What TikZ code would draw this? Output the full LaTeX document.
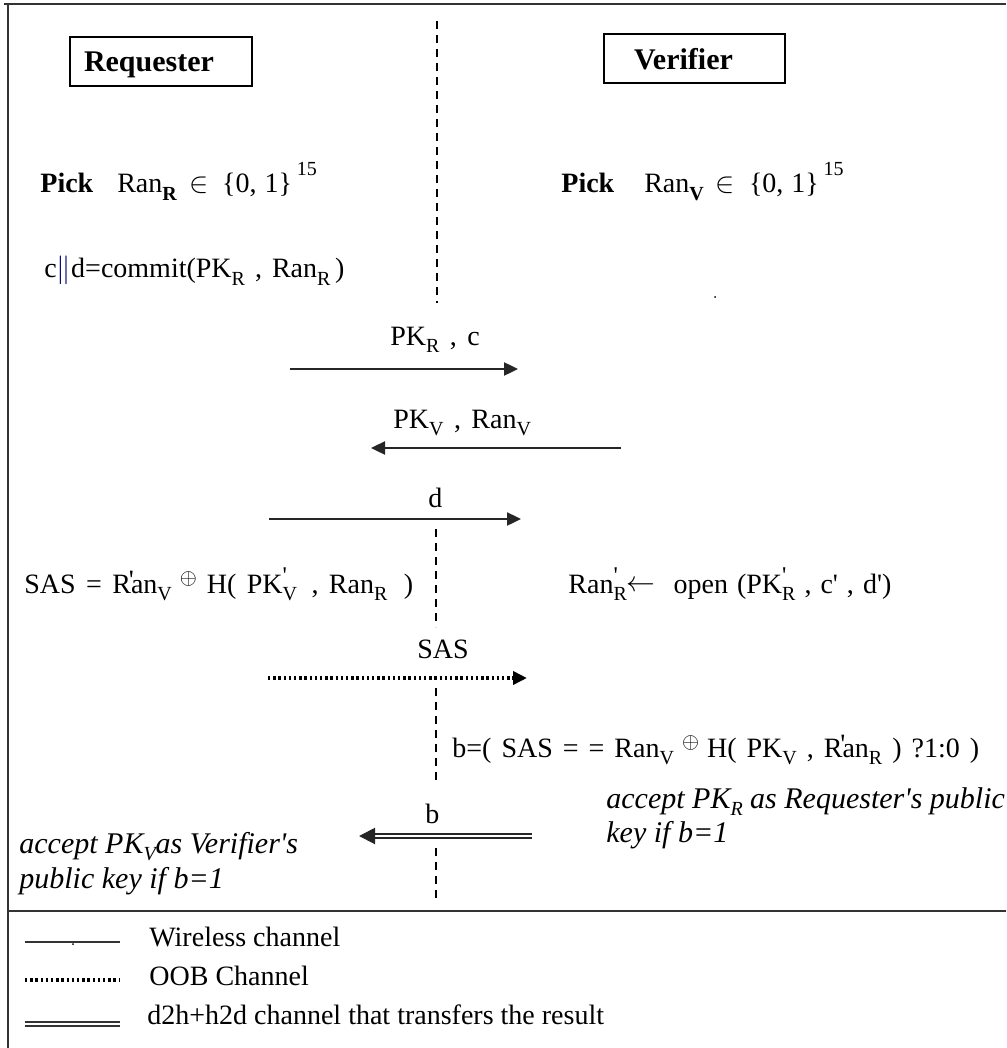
\documentclass[tikz,border=0pt]{standalone}
\usepackage{fontspec}
\setmainfont{Liberation Serif}
\usetikzlibrary{arrows.meta}

% small lowered index, and index carrying a prime above it
\newcommand\sbx[1]{\raisebox{-3.5pt}{\fontsize{10}{10}\selectfont #1}}
\newcommand\pq{\textquotesingle}
\newcommand\psb[1]{\rlap{\raisebox{5pt}{\fontsize{12}{12}\selectfont\pq}}\sbx{#1}}
\newcommand\rpr{R\llap{\raisebox{2pt}{\pq}\kern-1.5pt}}
\newcommand\oplusup{\raisebox{4.5pt}{\fontsize{11}{11}\selectfont$\oplus$}}
\newcommand\sxv[1]{\raisebox{9pt}{\fontsize{10}{10}\selectfont #1}}

\begin{document}
\begin{tikzpicture}[x=0.5pt,y=-0.5pt,
  every node/.style={inner sep=0pt,font=\fontsize{14}{17}\selectfont},
  frame/.style={line width=1.1pt,draw=black!80},
  actor/.style={draw,line width=1pt,anchor=west,align=left,minimum height=24.5pt,
    text depth=0pt,font=\bfseries\fontsize{15}{18}\selectfont},
  lbl/.style={anchor=base west},
  fml/.style={anchor=base west,execute at begin node={\spaceskip=#1\relax}},
  fml/.default=5.2pt,
  ilbl/.style={anchor=base west,align=left,font=\itshape\fontsize{15}{17}\selectfont},
  lifeline/.style={line width=0.7pt,dash pattern=on 4pt off 3pt},
  tip/.style={-{Triangle[length=7pt,width=6.5pt]}},
  wire/.style={tip,line width=1.2pt,draw=black!85},
  oob/.style={tip,line width=1.8pt,dash pattern=on 1.2pt off 1.4pt},
  res/.style={-{Triangle[length=8pt,width=8pt]},double,double distance=1.4pt,line width=1pt,draw=black!85},
  legwire/.style={line width=1pt,draw=black!80},
  legoob/.style={line width=1.8pt,dash pattern=on 1.2pt off 1.4pt},
  legres/.style={double,double distance=1.4pt,line width=1pt,draw=black!80}
]
\useasboundingbox (0,0) rectangle (1006,1048);

% outer frame and legend separator
\draw[frame] (4,4) -- (1006,4);
\draw[frame] (8,4) -- (8,1048);
\draw[frame] (8,911) -- (1006,911);

% parties
\node[actor,text width=77pt,inner xsep=7pt] (req) at (69,61.5) {Requester};
\node[actor,text width=60.5pt,inner xsep=15pt] (ver) at (603,59) {Verifier};

% lifeline between the two parties, broken where messages cross it
\coordinate (l1) at (437,21);  \coordinate (l2) at (437,303);
\coordinate (l3) at (436,529); \coordinate (l4) at (436,627);
\coordinate (l5) at (436,688); \coordinate (l6) at (436,785);
\coordinate (l7) at (436,848); \coordinate (l8) at (436,900);
\draw[lifeline] (l1) -- (l2);
\draw[lifeline] (l3) -- (l4);
\draw[lifeline] (l5) -- (l6);
\draw[lifeline] (l7) -- (l8);

% local computations
\node[lbl] (pickR) at (40,193) {\textbf{Pick}\hspace{12pt}Ran\sbx{\textbf{R}}\hspace{6pt}$\in$\hspace{7pt}\{0,\hspace{4pt}1\}\,\sxv{15}};
\node[lbl] (pickV) at (561,193) {\textbf{Pick}\hspace{15pt}Ran\sbx{\textbf{V}}\hspace{6pt}$\in$\hspace{7pt}\{0,\hspace{4pt}1\}\,\sxv{15}};
\node[fml=5pt] (commit) at (44,278) {c{\color{blue!45!black}$\|$}d=commit(PK\sbx{R} , Ran\sbx{R}\,)};
\fill (715,297) circle (1);

% messages
\coordinate (m1a) at (290,369); \coordinate (m1b) at (518,369);
\coordinate (m2a) at (621,448); \coordinate (m2b) at (371,448);
\coordinate (m3a) at (269,519); \coordinate (m3b) at (521,519);
\coordinate (m4a) at (268,678); \coordinate (m4b) at (527,678);
\coordinate (m5a) at (532,836); \coordinate (m5b) at (359,836);

\node[fml] (t1) at (390,345) {PK\sbx{R} , c};
\draw[wire] (m1a) -- (m1b);
\node[fml] (t2) at (393,428) {PK\sbx{V} , Ran\sbx{V}};
\draw[wire] (m2a) -- (m2b);
\node[lbl] (t3) at (428,507) {d};
\draw[wire] (m3a) -- (m3b);

\node[fml] (sasR) at (24,593) {SAS = \rpr an\sbx{V}\hspace{4pt}\oplusup\hspace{5pt}H( PK\psb{V}\hspace{2pt} , Ran\sbx{R}\hspace{3pt} )};
\node[fml=4.5pt] (openV) at (568,593) {Ran\psb{R}\raisebox{1pt}{$\leftarrow$}\ \ open (PK\psb{R} , c\pq\ , d\pq)};

\node[lbl] (t4) at (417,658) {SAS};
\draw[oob] (m4a) -- (m4b);

\node[fml=5pt] (chk) at (452,757) {b=( SAS = = Ran\sbx{V}\hspace{4pt}\oplusup\hspace{4pt}H( PK\sbx{V} , \rpr an\sbx{R} ) ?1:0 )};

\node[ilbl] (accR) at (606,842) {accept PK\sbx{R} as Requester\pq s public\\key if b=1};
\node[lbl] (t5) at (425,823) {b};
\draw[res] (m5a) -- (m5b);
\node[ilbl] (accV) at (19,888) {accept PK\sbx{V}as Verifier\pq s\\[0.5pt]public key if b=1};

% legend
\coordinate (k1a) at (25,942);  \coordinate (k1b) at (120,942);
\coordinate (k2a) at (25,980);  \coordinate (k2b) at (120,980);
\coordinate (k3a) at (25,1024); \coordinate (k3b) at (120,1024);
\draw[legwire] (k1a) -- (k1b);
\fill (73,944) circle (1);
\draw[legoob] (k2a) -- (k2b);
\draw[legres] (k3a) -- (k3b);
\node[lbl] (k1) at (149,946) {Wireless channel};
\node[lbl] (k2) at (149,985) {OOB Channel};
\node[lbl] (k3) at (147,1024) {d2h+h2d channel that transfers the result};
\end{tikzpicture}
\end{document}
